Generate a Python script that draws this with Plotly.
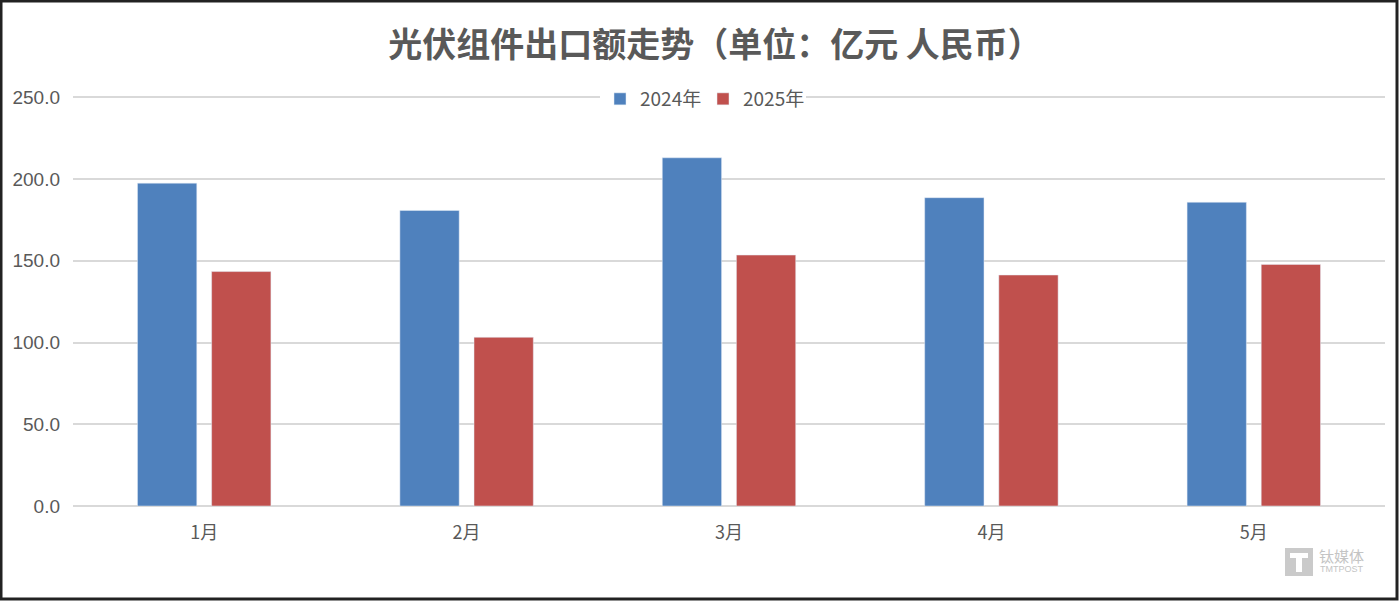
import plotly.graph_objects as go

months = ["1月", "2月", "3月", "4月", "5月"]
series_names = ["2024年", "2025年"]
values_2024 = [197.5, 180.8, 213.0, 188.6, 185.8]
values_2025 = [143.4, 103.2, 153.5, 141.3, 147.8]
y_ticks = [0, 50, 100, 150, 200, 250]
y_tick_labels = ["0.0", "50.0", "100.0", "150.0", "200.0", "250.0"]

BLUE = "#4F81BD"
RED = "#C0504D"
TEXT = "#595959"
GRID = "#D9D9D9"
FONT = "Noto Sans CJK SC"

W, H = 1399, 602
L, R, T, B = 73, 14, 96, 96
PW, PH = W - L - R, H - T - B


def px_x(x):
    return (x - L) / PW


def px_y(y):
    return (H - B - y) / PH


fig = go.Figure()
fig.add_trace(go.Bar(x=months, y=values_2024, name=series_names[0], marker_color=BLUE))
fig.add_trace(go.Bar(x=months, y=values_2025, name=series_names[1], marker_color=RED))

fig.update_layout(
    width=W, height=H,
    paper_bgcolor="white", plot_bgcolor="white",
    margin=dict(l=L, r=R, t=T, b=B),
    barmode="group", bargap=0.435, bargroupgap=0.2,
    title=dict(text="<b>光伏组件出口额走势（单位：亿元 人民币）</b>",
               x=715 / W, xanchor="center", y=1 - 45 / H, yanchor="middle",
               font=dict(family=FONT, size=34, color=TEXT)),
    legend=dict(orientation="h", x=px_x(703), xanchor="center", y=px_y(99), yanchor="middle",
                font=dict(family=FONT, size=19, color=TEXT),
                bgcolor="white", traceorder="normal", itemwidth=30,
                entrywidth=58, entrywidthmode="pixels"),
    showlegend=True,
)
fig.update_yaxes(range=[0, 250.8], tickvals=y_ticks, ticktext=y_tick_labels,
                 showgrid=True, gridcolor=GRID, gridwidth=2, zeroline=True,
                 zerolinecolor=GRID, zerolinewidth=2, showline=False,
                 ticks="", ticklabelstandoff=12,
                 tickfont=dict(family="Liberation Sans", size=19, color=TEXT))
fig.update_xaxes(showline=False, ticks="", ticklabelstandoff=14,
                 tickfont=dict(family=FONT, size=18, color=TEXT))

# frame around the picture
fig.add_shape(type="rect", xref="paper", yref="paper", x0=px_x(1), x1=px_x(1397),
              y0=px_y(599), y1=px_y(1), line=dict(color="#222222", width=3), layer="above")

# watermark
fig.add_shape(type="rect", xref="paper", yref="paper",
              x0=px_x(1285), x1=px_x(1313), y0=px_y(576), y1=px_y(548),
              fillcolor="#CACACA", line=dict(width=0), layer="above")
fig.add_shape(type="rect", xref="paper", yref="paper",
              x0=px_x(1290), x1=px_x(1308), y0=px_y(558), y1=px_y(553),
              fillcolor="white", line=dict(width=0), layer="above")
fig.add_shape(type="rect", xref="paper", yref="paper",
              x0=px_x(1296), x1=px_x(1302), y0=px_y(572), y1=px_y(553),
              fillcolor="white", line=dict(width=0), layer="above")
fig.add_annotation(xref="paper", yref="paper", x=px_x(1317), y=px_y(555), xanchor="left", yanchor="middle",
                   text="钛媒体", showarrow=False, font=dict(family=FONT, size=15, color="#C4C4C4"))
fig.add_annotation(xref="paper", yref="paper", x=px_x(1318), y=px_y(569), xanchor="left", yanchor="middle",
                   text="TMTPOST", showarrow=False, font=dict(family="Liberation Sans", size=9, color="#C4C4C4"))

fig.write_html("out.html", config={"displayModeBar": False},
               post_script="document.body.style.margin='0';document.body.style.overflow='hidden';")
